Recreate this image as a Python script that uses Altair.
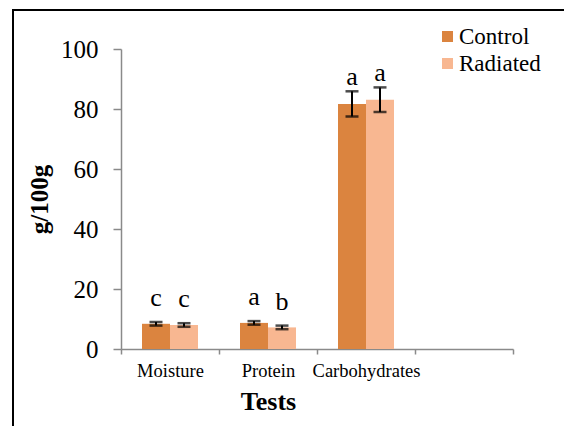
import altair as alt
import pandas as pd

tests = ["Moisture", "Protein", "Carbohydrates"]
groups = ["Control", "Radiated"]
control_vals = [8.4, 8.7, 81.7]
radiated_vals = [8.0, 7.2, 83.1]
control_err = [0.6, 0.6, 4.2]
radiated_err = [0.6, 0.6, 4.1]
control_letters = ["c", "a", "a"]
radiated_letters = ["c", "b", "a"]
y_ticks = [0, 20, 40, 60, 80, 100]
x_domain = tests + [" "]
colors = ["#DB843F", "#F8B791"]

rows = []
for i, t in enumerate(tests):
    rows.append(dict(test=t, group="Control", value=control_vals[i],
                     err=control_err[i], letter=control_letters[i]))
    rows.append(dict(test=t, group="Radiated", value=radiated_vals[i],
                     err=radiated_err[i], letter=radiated_letters[i]))
df = pd.DataFrame(rows)
df["lo"] = df["value"] - df["err"]
df["hi"] = df["value"] + df["err"]

FONT = "Liberation Serif"
AXC = "#8A8A8A"

x_enc = alt.X(
    "test:N",
    scale=alt.Scale(domain=x_domain, paddingInner=0, paddingOuter=0),
    axis=alt.Axis(
        title="Tests", labelAngle=0, tickBand="extent", tickSize=5,
        labelFont=FONT, labelFontSize=18.5, labelColor="black", labelPadding=7,
        domainColor=AXC, tickColor=AXC, domainWidth=1.5, tickWidth=1.5,
        titleFont=FONT, titleFontSize=26, titleFontWeight="bold", titleColor="black",
        titleX=147, titleY=60, titleBaseline="alphabetic", titleAlign="center",
    ),
)
xoff = alt.XOffset("group:N", scale=alt.Scale(domain=groups, paddingInner=0, paddingOuter=0.75))
y_scale = alt.Scale(domain=[0, 100], nice=False)

base = alt.Chart(df).encode(x=x_enc, xOffset=xoff)

bars = base.mark_bar().encode(
    y=alt.Y("value:Q", scale=y_scale, axis=alt.Axis(
        values=y_ticks, grid=False, tickSize=8, labelPadding=15,
        labelFont=FONT, labelFontSize=25, labelColor="black",
        domainColor=AXC, tickColor=AXC, domainWidth=1.5, tickWidth=1.5,
        title="g/100g", titleFont=FONT, titleFontSize=25, titleFontWeight="bold",
        titleColor="black", titlePadding=8,
    )),
    color=alt.Color("group:N", scale=alt.Scale(domain=groups, range=colors),
                    legend=alt.Legend(
                        title=None, orient="none", legendX=315, legendY=-24,
                        symbolType="square", symbolSize=121, symbolStrokeWidth=0,
                        labelFont=FONT, labelFontSize=23, labelColor="black",
                        labelOffset=0, rowPadding=3, padding=0)),
)

err_rule = base.mark_rule(color="black", strokeWidth=2).encode(
    y=alt.Y("lo:Q", scale=y_scale), y2="hi:Q")
cap_hi = base.mark_tick(color="black", thickness=2.5, size=13, orient="horizontal").encode(
    y=alt.Y("hi:Q", scale=y_scale))
cap_lo = base.mark_tick(color="black", thickness=2.5, size=13, orient="horizontal").encode(
    y=alt.Y("lo:Q", scale=y_scale))

txt_small = base.transform_filter("datum.value < 50").mark_text(
    font=FONT, fontSize=26, color="black", baseline="alphabetic", dy=-16
).encode(y=alt.Y("hi:Q", scale=y_scale), text="letter:N")
txt_big = base.transform_filter("datum.value >= 50").mark_text(
    font=FONT, fontSize=26, color="black", baseline="alphabetic", dy=-6
).encode(y=alt.Y("hi:Q", scale=y_scale), text="letter:N")

frame = alt.Chart(pd.DataFrame({"k": [0]})).mark_rect(
    fill=None, stroke="black", strokeWidth=2
).encode(x=alt.value(-108), x2=alt.value(460), y=alt.value(-39), y2=alt.value(400))

chart = alt.layer(frame, bars, err_rule, cap_hi, cap_lo, txt_small, txt_big).properties(
    width=392, height=300,
    padding={"left": 121, "top": 49, "right": 51, "bottom": 77},
    autosize="none",
    background="white",
).configure_view(stroke=None)

chart.save("out.html", embed_options={"renderer": "svg", "actions": False})
